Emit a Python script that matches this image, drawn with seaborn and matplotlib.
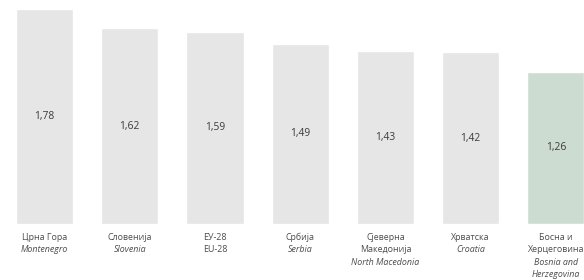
import seaborn as sns
import matplotlib.pyplot as plt
import pandas as pd

sns.set_style("white")
plt.rcParams['font.family'] = ['Open Sans', 'DejaVu Sans']

# data
countries_local = ["Црна Гора", "Словенија", "ЕУ-28", "Србија",
                   "Сјеверна\nМакедонија", "Хрватска", "Босна и\nХерцеговина"]
countries_en = ["Montenegro", "Slovenia", "EU-28", "Serbia",
                "North Macedonia", "Croatia", "Bosnia and\nHerzegovina"]
values = [1.78, 1.62, 1.59, 1.49, 1.43, 1.42, 1.26]
labels = ["1,78", "1,62", "1,59", "1,49", "1,43", "1,42", "1,26"]

df = pd.DataFrame({"country": countries_en, "value": values})
colors = ["#e6e6e7"] * 6 + ["#cddcd1"]

fig = plt.figure(figsize=(5.84, 2.8), dpi=100)
ax = fig.add_axes([0, 0.2, 1, 0.8])
sns.barplot(data=df, x="country", y="value", hue="country", palette=colors,
            legend=False, width=0.67, saturation=1, ax=ax)

ax.set_xlim(-0.522, 6.33)
ax.set_ylim(0, 1.854)
ax.axis("off")

# value inside bars
for i, (v, lab) in enumerate(zip(values, labels)):
    ax.text(i, v / 2, lab, ha="center", va="center", fontsize=7.4, color="#3a3a3a")

# two-language category labels under bars
line_h = 12.4
for i, (loc, en) in enumerate(zip(countries_local, countries_en)):
    style = "normal" if en == "EU-28" else "italic"
    lines = [(s, "normal") for s in loc.split("\n")] + [(s, style) for s in en.split("\n")]
    for k, (s, st) in enumerate(lines):
        ax.annotate(s, xy=(i, 0), xycoords=("data", "axes fraction"),
                    xytext=(0, -13.5 - k * line_h), textcoords="offset pixels",
                    ha="center", va="center", fontsize=6.4, style=st,
                    color="#4d4d4d", annotation_clip=False)

fig.savefig("out.png", dpi=100)
